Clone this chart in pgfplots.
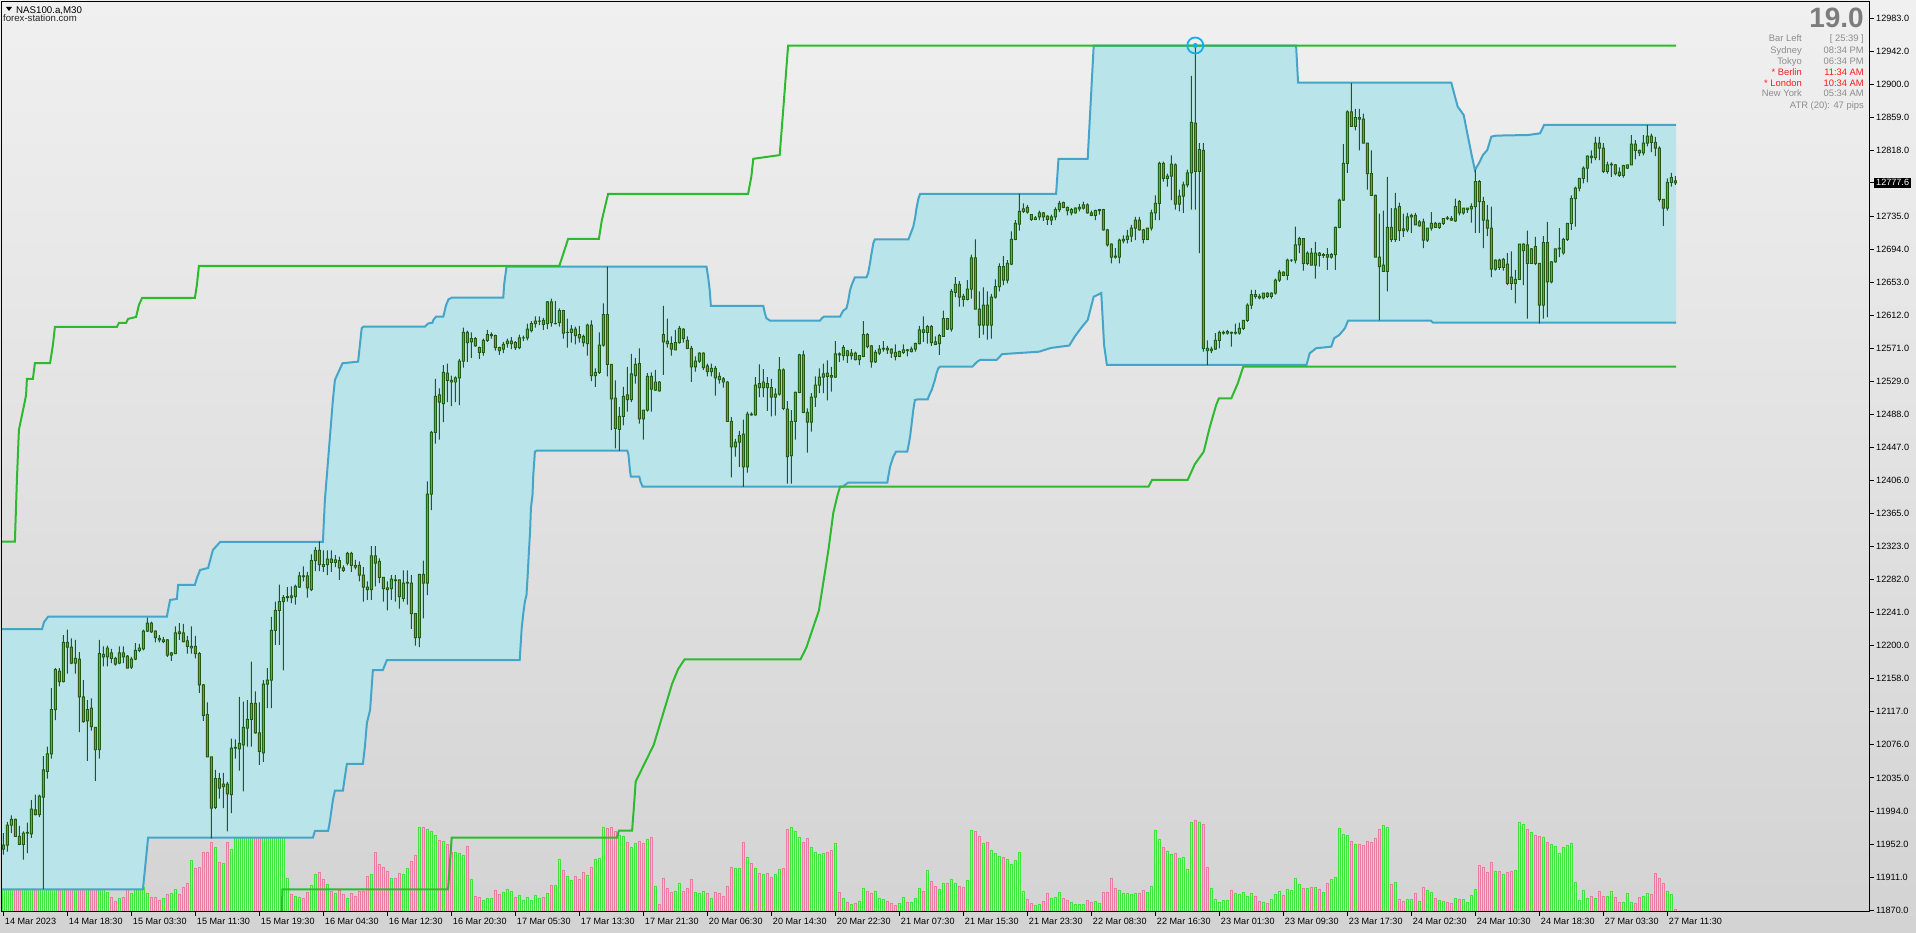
\documentclass[border=0pt]{standalone}
\usepackage{fontspec}
\setmainfont{Liberation Sans}
\usepackage{pgfplots}
\usepackage{pgfplotstable}
\pgfplotsset{compat=1.18}
\definecolor{bgtop}{HTML}{F0F0F0}
\definecolor{bgbot}{HTML}{D3D3D3}
\definecolor{chan}{HTML}{B9E4EA}
\definecolor{chanline}{HTML}{45A5C8}
\definecolor{gline}{HTML}{2EBA2E}
\definecolor{wick}{HTML}{1F5A12}
\definecolor{upfill}{HTML}{3DC23D}
\definecolor{dnfill}{HTML}{E0604A}
\definecolor{vgreen}{HTML}{3CE43C}
\definecolor{vgreenf}{HTML}{B3ECB3}
\definecolor{vpink}{HTML}{EA7CA2}
\definecolor{vpinkf}{HTML}{F2C2D2}
\definecolor{infogray}{HTML}{8C8C8C}
\definecolor{biggray}{HTML}{7C7C7C}
\definecolor{infored}{HTML}{FF1A1A}
\definecolor{hilite}{HTML}{12B0E8}

\pgfplotsset{
  chartaxis/.style={scale only axis, width=1868pt, height=910pt, xmin=-0.325, xmax=466.675,
    at={(2pt,21pt)}, anchor=south west, clip=true},
  priceaxis/.style={chartaxis, ymin=11867.5, ymax=13003.3},
}

% OHLC (price) and volume for each 30-minute bar, bar 0 = 14 Mar 2023
\pgfplotstableread{
o h l c v
11946 11966 11939 11951 40
11951 11980 11943 11976 38
11976 11988 11966 11983 35
11983 11984 11962 11962 42
11962 11975 11951 11952 36
11952 11968 11933 11966 30
11966 11979 11941 11967 33
11965 12007 11960 11996 45
11995 12014 11988 11989 40
11989 12014 11986 12012 38
12011 12062 11896 12045 50
12043 12074 12034 12065 42
12065 12147 12059 12120 48
12120 12172 12107 12170 45
12168 12172 12149 12155 40
12155 12213 12154 12204 44
12204 12220 12165 12198 42
12198 12209 12177 12178 36
12178 12207 12165 12184 32
12183 12192 12092 12136 40
12136 12157 12104 12105 38
12106 12132 12056 12120 35
12122 12134 12094 12099 30
12098 12098 12031 12070 35
12070 12207 12059 12190 40
12186 12199 12174 12189 28
12186 12200 12174 12197 20
12191 12196 12178 12184 15
12184 12186 12175 12177 11
12178 12199 12177 12191 14
12191 12199 12178 12186 15
12187 12188 12172 12172 24
12173 12186 12171 12183 19
12183 12203 12182 12194 25
12194 12202 12192 12197 25
12196 12220 12194 12218 25
12218 12235 12217 12228 19
12228 12230 12216 12217 15
12218 12219 12204 12210 15
12209 12213 12204 12207 12
12205 12211 12203 12207 14
12207 12208 12186 12188 18
12188 12192 12181 12191 19
12190 12224 12190 12216 23
12217 12228 12207 12215 18
12216 12227 12204 12205 25
12206 12212 12190 12199 29
12197 12224 12190 12199 52
12199 12212 12184 12190 44
12190 12192 12141 12151 45
12151 12152 12106 12113 60
12114 12129 12061 12061 60
12061 12061 11959 11997 70
11998 12045 11996 12034 65
12034 12041 12009 12022 50
12024 12041 11997 12027 49
12027 12030 11968 12015 70
12014 12084 11991 12072 63
12072 12083 12059 12073 80
12071 12136 12044 12078 85
12076 12130 12018 12098 88
12097 12132 12074 12108 90
12108 12180 12074 12128 86
12128 12143 12090 12091 84
12091 12129 12051 12068 80
12066 12157 12055 12152 82
12152 12172 12122 12157 88
12157 12236 12122 12219 90
12219 12255 12201 12244 85
12244 12276 12201 12255 80
12255 12263 12169 12260 78
12260 12273 12255 12261 34
12262 12274 12253 12260 18
12261 12276 12251 12274 16
12273 12292 12272 12287 15
12287 12299 12280 12286 14
12287 12292 12260 12272 20
12270 12314 12268 12306 27
12306 12323 12293 12319 38
12319 12330 12293 12301 40
12301 12319 12292 12299 33
12301 12319 12288 12308 28
12308 12319 12292 12304 21
12304 12313 12298 12307 19
12306 12311 12282 12297 22
12297 12300 12292 12294 18
12303 12317 12300 12315 14
12315 12317 12292 12300 19
12300 12307 12295 12298 16
12300 12305 12280 12288 21
12288 12298 12255 12273 21
12273 12280 12257 12270 36
12270 12324 12257 12312 38
12312 12324 12274 12303 60
12305 12309 12278 12285 48
12285 12285 12255 12271 45
12272 12280 12244 12270 41
12271 12288 12257 12283 34
12282 12288 12255 12281 34
12282 12282 12246 12261 39
12259 12294 12255 12278 38
12278 12294 12251 12279 44
12278 12288 12221 12240 51
12240 12240 12200 12210 57
12210 12289 12198 12289 85
12289 12306 12234 12278 85
12278 12405 12263 12389 83
12389 12468 12369 12466 81
12466 12533 12452 12511 77
12513 12521 12457 12504 72
12502 12550 12479 12541 71
12540 12552 12504 12531 68
12531 12537 12499 12529 60
12529 12536 12504 12534 60
12534 12558 12500 12555 59
12555 12597 12547 12591 57
12591 12593 12554 12578 66
12579 12591 12559 12583 33
12583 12585 12573 12574 16
12572 12573 12558 12566 15
12566 12583 12562 12581 12
12581 12594 12579 12588 14
12587 12591 12583 12588 14
12587 12588 12568 12572 22
12572 12573 12563 12568 18
12570 12579 12565 12576 20
12577 12583 12572 12580 23
12577 12585 12570 12580 21
12578 12580 12569 12572 15
12572 12588 12570 12584 17
12584 12587 12580 12584 12
12584 12602 12581 12595 15
12593 12605 12591 12602 12
12602 12611 12597 12605 17
12605 12611 12600 12605 14
12606 12609 12594 12601 15
12602 12630 12595 12629 19
12629 12633 12598 12603 27
12602 12630 12601 12602 27
12603 12621 12598 12618 53
12618 12619 12583 12590 42
12591 12608 12572 12591 36
12591 12600 12578 12595 32
12595 12598 12576 12587 36
12588 12599 12578 12584 33
12586 12588 12573 12578 40
12577 12602 12562 12600 37
12600 12606 12530 12537 45
12537 12546 12523 12541 53
12541 12591 12539 12575 54
12575 12627 12573 12613 85
12613 12673 12536 12551 84
12551 12551 12469 12508 85
12509 12531 12446 12471 81
12470 12498 12443 12486 77
12486 12523 12475 12511 76
12513 12548 12492 12507 70
12507 12564 12504 12539 65
12537 12559 12527 12551 69
12552 12571 12477 12483 71
12494 12494 12457 12483 69
12494 12540 12492 12536 73
12536 12541 12492 12520 75
12519 12544 12518 12529 26
12529 12530 12517 12518 8
12588 12624 12538 12579 34
12580 12608 12572 12577 24
12577 12586 12562 12570 20
12569 12594 12569 12578 21
12578 12599 12577 12596 29
12595 12596 12578 12583 21
12581 12586 12570 12571 24
12571 12574 12529 12548 33
12548 12561 12542 12555 20
12555 12566 12553 12565 19
12547 12566 12544 12565 21
12549 12552 12536 12542 19
12542 12552 12536 12546 14
12546 12549 12512 12534 20
12536 12541 12527 12532 19
12533 12535 12522 12529 16
12529 12530 12480 12480 26
12480 12485 12410 12448 45
12448 12458 12436 12454 44
12454 12468 12423 12462 44
12464 12482 12398 12423 70
12423 12492 12416 12489 55
12489 12491 12487 12488 49
12488 12535 12487 12525 44
12527 12551 12510 12522 39
12522 12545 12510 12529 38
12527 12535 12493 12522 39
12522 12533 12486 12510 35
12510 12521 12487 12514 38
12514 12560 12512 12544 43
12544 12546 12494 12496 44
12495 12505 12402 12436 83
12437 12494 12402 12480 85
12480 12517 12457 12516 81
12516 12564 12515 12563 75
12563 12568 12490 12491 70
12491 12496 12441 12479 74
12479 12515 12467 12510 65
12510 12536 12498 12525 60
12525 12546 12515 12535 58
12535 12552 12515 12539 59
12540 12556 12506 12536 60
12537 12548 12517 12535 62
12535 12580 12534 12564 69
12564 12566 12554 12563 20
12562 12575 12556 12572 14
12568 12569 12553 12562 10
12562 12570 12557 12565 8
12565 12567 12556 12557 9
12557 12562 12550 12562 11
12561 12605 12560 12588 24
12588 12590 12571 12573 21
12574 12575 12547 12554 19
12554 12569 12553 12566 21
12565 12575 12563 12570 14
12570 12580 12567 12571 13
12571 12574 12564 12569 11
12570 12571 12559 12565 9
12566 12576 12556 12561 7
12561 12568 12560 12567 9
12566 12576 12564 12569 15
12569 12570 12561 12568 10
12567 12573 12566 12570 10
12570 12578 12567 12577 14
12577 12599 12576 12594 24
12594 12611 12579 12591 21
12591 12600 12577 12598 42
12598 12600 12574 12578 31
12579 12586 12575 12576 26
12577 12589 12563 12587 23
12586 12618 12586 12608 29
12608 12609 12594 12595 29
12595 12645 12592 12642 33
12641 12660 12635 12651 29
12651 12655 12623 12635 26
12636 12639 12623 12632 25
12632 12656 12631 12645 32
12645 12688 12633 12684 82
12684 12707 12620 12620 81
12620 12642 12584 12600 76
12600 12647 12588 12625 69
12625 12642 12582 12600 70
12600 12639 12583 12635 62
12635 12657 12633 12648 59
12648 12677 12642 12673 56
12673 12686 12650 12656 55
12656 12681 12652 12677 53
12676 12717 12675 12707 48
12707 12731 12706 12727 52
12726 12764 12718 12742 60
12742 12752 12740 12745 21
12747 12750 12739 12741 13
12738 12738 12730 12732 9
12732 12736 12731 12734 7
12735 12743 12731 12740 8
12740 12741 12730 12735 11
12736 12737 12725 12732 19
12731 12738 12725 12735 14
12735 12747 12731 12744 15
12744 12755 12741 12752 20
12753 12754 12746 12747 14
12747 12748 12737 12743 12
12740 12746 12737 12744 10
12740 12747 12739 12746 8
12745 12751 12742 12747 8
12746 12754 12744 12750 8
12750 12752 12739 12740 12
12740 12743 12736 12737 10
12737 12744 12731 12743 11
12743 12745 12738 12744 9
12744 12745 12718 12719 20
12719 12720 12698 12700 20
12701 12702 12677 12685 34
12686 12696 12683 12685 24
12685 12708 12677 12706 22
12705 12712 12702 12707 19
12707 12719 12702 12711 19
12711 12725 12704 12721 18
12721 12735 12706 12731 19
12731 12735 12718 12719 19
12719 12720 12702 12707 22
12707 12721 12706 12721 20
12721 12744 12718 12740 26
12740 12762 12731 12752 82
12752 12804 12731 12802 73
12802 12804 12779 12783 65
12783 12789 12773 12786 61
12786 12812 12756 12801 58
12800 12802 12744 12751 59
12751 12769 12742 12761 54
12761 12779 12740 12775 55
12775 12794 12772 12790 43
12790 12911 12744 12853 90
12852 12952 12744 12792 92
12792 12827 12690 12819 90
12818 12827 12567 12571 88
12571 12581 12550 12568 45
12568 12573 12565 12570 24
12570 12590 12569 12581 13
12581 12593 12571 12591 10
12590 12593 12588 12591 12
12590 12594 12588 12592 12
12591 12592 12573 12590 22
12590 12602 12588 12591 19
12590 12603 12588 12596 18
12596 12606 12594 12606 20
12606 12627 12604 12625 16
12625 12644 12620 12638 19
12638 12644 12633 12636 16
12636 12639 12632 12634 11
12634 12640 12632 12640 10
12640 12641 12634 12636 9
12636 12641 12633 12640 13
12640 12658 12638 12656 18
12656 12669 12654 12666 21
12666 12667 12661 12662 17
12662 12683 12656 12681 23
12681 12682 12679 12681 22
12681 12723 12677 12700 34
12700 12710 12690 12708 28
12708 12708 12668 12677 24
12677 12692 12675 12690 24
12690 12696 12675 12675 25
12675 12704 12658 12690 25
12690 12691 12673 12687 23
12687 12690 12684 12688 20
12688 12696 12669 12685 29
12685 12690 12683 12688 33
12688 12723 12669 12722 35
12722 12758 12721 12756 84
12756 12826 12755 12802 78
12802 12868 12790 12866 77
12866 12902 12848 12848 71
12848 12870 12843 12859 68
12859 12870 12818 12857 68
12857 12864 12827 12827 67
12827 12827 12769 12789 71
12789 12818 12762 12762 70
12762 12763 12685 12685 74
12685 12739 12606 12673 83
12667 12743 12667 12675 87
12667 12785 12642 12722 85
12722 12746 12704 12707 28
12707 12765 12704 12745 30
12748 12753 12705 12718 13
12720 12739 12710 12718 11
12719 12740 12716 12735 13
12735 12739 12715 12737 13
12737 12740 12725 12725 19
12724 12731 12723 12729 11
12729 12733 12696 12706 25
12706 12721 12704 12721 22
12721 12741 12718 12727 20
12727 12729 12722 12722 14
12722 12728 12720 12727 12
12727 12733 12725 12733 11
12734 12736 12731 12733 10
12733 12736 12730 12731 9
12730 12758 12729 12748 14
12754 12756 12737 12740 13
12740 12746 12738 12746 13
12744 12746 12740 12746 10
12745 12752 12728 12748 17
12748 12794 12715 12779 23
12779 12781 12715 12754 47
12754 12760 12696 12731 45
12731 12750 12711 12721 40
12721 12748 12660 12670 50
12670 12682 12668 12681 41
12681 12683 12669 12672 41
12672 12684 12668 12682 38
12676 12690 12650 12652 40
12660 12692 12644 12652 41
12652 12669 12627 12657 42
12657 12701 12657 12701 90
12693 12702 12650 12701 88
12700 12718 12608 12677 83
12677 12696 12677 12695 80
12698 12710 12675 12677 77
12677 12677 12602 12625 76
12625 12711 12608 12703 75
12703 12729 12610 12654 70
12654 12680 12652 12679 68
12679 12695 12678 12695 66
12695 12721 12685 12696 59
12690 12709 12688 12707 65
12707 12727 12705 12727 67
12727 12762 12719 12758 69
12758 12773 12723 12771 30
12771 12783 12767 12783 12
12783 12798 12777 12796 22
12796 12812 12778 12811 14
12811 12818 12802 12809 16
12809 12835 12806 12827 14
12827 12835 12806 12821 21
12821 12827 12790 12792 16
12792 12804 12789 12800 16
12800 12803 12785 12801 21
12800 12801 12787 12789 15
12791 12797 12785 12787 10
12787 12800 12784 12799 10
12796 12800 12795 12800 19
12800 12837 12800 12826 10
12826 12831 12807 12818 9
12818 12819 12811 12815 15
12815 12837 12812 12827 16
12827 12850 12823 12836 19
12836 12839 12816 12828 18
12828 12835 12811 12821 39
12821 12823 12754 12757 34
12757 12757 12724 12746 29
12746 12783 12743 12778 21
12778 12790 12773 12784 18
12780 12786 12775 12777.6 3
}\candles

% channel upper line (bar, price)
\pgfplotstableread{
x y
-0.4 12220.7
9.7 12220.7
10.2 12229.5
11.2 12236.1
40.9 12236.1
41.2 12244.5
41.7 12257
43.4 12258.2
43.7 12275.7
47.9 12275.7
48.4 12284.4
49.2 12294.4
51.2 12296.9
52.4 12319.3
54.2 12329.3
79.9 12329.3
80.4 12381.8
82.4 12506.6
82.9 12531.5
84.8 12552.4
88.7 12554.4
89.6 12596.1
90.05 12598.1
105.4 12598.1
105.8 12600.2
106.3 12602.2
107.3 12603
107.5 12606.4
108.2 12610.6
110 12610.6
110.2 12614.7
110.7 12625.1
111.3 12632.2
112.1 12634.3
125 12634.3
125.2 12650
125.8 12673
175.8 12673
176.2 12660.5
176.6 12643.9
176.9 12623.9
190 12623.9
190.4 12614.7
190.8 12608.5
191.7 12605.6
204.2 12605.6
204.6 12608.5
205.2 12610.6
209.2 12610.6
209.6 12614.7
210 12618.1
210.8 12621
211.2 12629.3
211.7 12643.9
212.1 12650.1
212.9 12659.7
215.8 12659.7
216.2 12664.7
216.6 12675.1
217 12687.5
217.5 12702.1
217.9 12707.1
226.3 12707.1
226.7 12712.5
227.5 12722.9
228 12735.4
228.3 12745.8
228.8 12758.3
229.2 12763.7
263.2 12763.7
263.8 12807.6
271.1 12807.6
272.6 12948.8
323.2 12948.8
323.7 12902.6
362 12902.6
362.7 12889.3
363.6 12872.7
365.1 12862.3
366 12839.4
367 12814.4
367.9 12793.6
368.9 12801.9
369.9 12812.3
371 12818.6
372 12835.2
373.2 12836.5
381.3 12837.3
384.2 12839.4
385.2 12849.8
418.2 12849.8
}\bu
% channel lower line, listed from right to left
\pgfplotstableread{
x y
418.2 12603.1
357.4 12603.1
356.9 12605.6
336.2 12605.6
335.4 12596
334 12587.7
332.7 12583.5
332 12573.1
328.2 12571.1
326.6 12564.8
325.8 12550.3
275.9 12550.3
275.2 12575
274.5 12640
272.6 12635.4
271.1 12606.4
269.6 12597.3
268 12586.7
266.5 12574.5
261.9 12571.5
258.9 12566.8
249.7 12563.8
248.75 12558.6
248.3 12556.5
244.2 12556.5
243.5 12554.4
242.9 12551.5
242.3 12548.2
234.2 12548.2
233.75 12546.1
233.3 12539.8
232.9 12531.5
232.5 12525.3
232.1 12519
231.5 12512.8
231.1 12507.4
228.75 12507.4
227.9 12506.6
227.5 12494.1
227.1 12477.4
226.7 12460.8
226.25 12448.3
226 12442.1
223.2 12442.1
222.5 12435.8
222.1 12429.6
221.7 12423.4
221.25 12410.9
221 12403.4
211.25 12403.4
210.4 12400.5
210 12398.4
159.8 12398.4
159.3 12404.6
159 12410.9
156.9 12410.9
156.7 12417.1
156.3 12437.9
156 12443.3
133.3 12443.3
132.9 12442
132.5 12413
132.3 12388
131.9 12371.4
131.7 12342.2
131.4 12317.3
131.1 12288.1
130.8 12263.2
130.4 12254.9
130 12240.3
129.6 12221.6
129.1 12182
95.9 12182
94.9 12169.5
92.4 12169.5
91.7 12119.6
90.9 12103.4
90.4 12073.8
89.9 12052.3
85.9 12052.3
85.4 12036.4
84.9 12018.9
82.9 12018.9
82.4 12007.3
81.7 11982.3
81.2 11968.6
77.9 11968.6
77.4 11960.3
36.2 11960.3
35.4 11920
34.9 11895.8
-0.4 11895.8
}\bl
% channel area: upper line left to right, then lower line right to left
\pgfplotstableread{
x y
-0.4 12220.7
9.7 12220.7
10.2 12229.5
11.2 12236.1
40.9 12236.1
41.2 12244.5
41.7 12257
43.4 12258.2
43.7 12275.7
47.9 12275.7
48.4 12284.4
49.2 12294.4
51.2 12296.9
52.4 12319.3
54.2 12329.3
79.9 12329.3
80.4 12381.8
82.4 12506.6
82.9 12531.5
84.8 12552.4
88.7 12554.4
89.6 12596.1
90.05 12598.1
105.4 12598.1
105.8 12600.2
106.3 12602.2
107.3 12603
107.5 12606.4
108.2 12610.6
110 12610.6
110.2 12614.7
110.7 12625.1
111.3 12632.2
112.1 12634.3
125 12634.3
125.2 12650
125.8 12673
175.8 12673
176.2 12660.5
176.6 12643.9
176.9 12623.9
190 12623.9
190.4 12614.7
190.8 12608.5
191.7 12605.6
204.2 12605.6
204.6 12608.5
205.2 12610.6
209.2 12610.6
209.6 12614.7
210 12618.1
210.8 12621
211.2 12629.3
211.7 12643.9
212.1 12650.1
212.9 12659.7
215.8 12659.7
216.2 12664.7
216.6 12675.1
217 12687.5
217.5 12702.1
217.9 12707.1
226.3 12707.1
226.7 12712.5
227.5 12722.9
228 12735.4
228.3 12745.8
228.8 12758.3
229.2 12763.7
263.2 12763.7
263.8 12807.6
271.1 12807.6
272.6 12948.8
323.2 12948.8
323.7 12902.6
362 12902.6
362.7 12889.3
363.6 12872.7
365.1 12862.3
366 12839.4
367 12814.4
367.9 12793.6
368.9 12801.9
369.9 12812.3
371 12818.6
372 12835.2
373.2 12836.5
381.3 12837.3
384.2 12839.4
385.2 12849.8
418.2 12849.8
418.2 12603.1
357.4 12603.1
356.9 12605.6
336.2 12605.6
335.4 12596
334 12587.7
332.7 12583.5
332 12573.1
328.2 12571.1
326.6 12564.8
325.8 12550.3
275.9 12550.3
275.2 12575
274.5 12640
272.6 12635.4
271.1 12606.4
269.6 12597.3
268 12586.7
266.5 12574.5
261.9 12571.5
258.9 12566.8
249.7 12563.8
248.75 12558.6
248.3 12556.5
244.2 12556.5
243.5 12554.4
242.9 12551.5
242.3 12548.2
234.2 12548.2
233.75 12546.1
233.3 12539.8
232.9 12531.5
232.5 12525.3
232.1 12519
231.5 12512.8
231.1 12507.4
228.75 12507.4
227.9 12506.6
227.5 12494.1
227.1 12477.4
226.7 12460.8
226.25 12448.3
226 12442.1
223.2 12442.1
222.5 12435.8
222.1 12429.6
221.7 12423.4
221.25 12410.9
221 12403.4
211.25 12403.4
210.4 12400.5
210 12398.4
159.8 12398.4
159.3 12404.6
159 12410.9
156.9 12410.9
156.7 12417.1
156.3 12437.9
156 12443.3
133.3 12443.3
132.9 12442
132.5 12413
132.3 12388
131.9 12371.4
131.7 12342.2
131.4 12317.3
131.1 12288.1
130.8 12263.2
130.4 12254.9
130 12240.3
129.6 12221.6
129.1 12182
95.9 12182
94.9 12169.5
92.4 12169.5
91.7 12119.6
90.9 12103.4
90.4 12073.8
89.9 12052.3
85.9 12052.3
85.4 12036.4
84.9 12018.9
82.9 12018.9
82.4 12007.3
81.7 11982.3
81.2 11968.6
77.9 11968.6
77.4 11960.3
36.2 11960.3
35.4 11920
34.9 11895.8
-0.4 11895.8
}\chanarea
% upper and lower envelope
\pgfplotstableread{
x y
-0.4 12329.8
2.9 12329.8
3.4 12406.7
3.9 12469.1
5.2 12500.3
5.7 12512.8
5.9 12532.8
7.4 12532.8
7.9 12552.7
11.7 12552.7
12.4 12575.2
12.9 12597.7
28.4 12597.7
28.9 12602.7
30.7 12602.7
31.2 12607.7
33.2 12610.2
33.9 12625.1
34.7 12633.9
47.9 12633.9
48.4 12650.1
48.9 12673.8
139 12673.8
139.9 12687.5
141.2 12707.5
148.9 12707.5
149.6 12730
150.3 12745
151.2 12763.7
186.2 12763.7
187 12785
187.5 12807.6
194.1 12812.2
195 12870
196.2 12948.8
418.2 12948.8
}\gu
\pgfplotstableread{
x y
69.7 11860
69.75 11895.8
111.2 11895.8
112.1 11960.3
153.4 11960.3
153.9 11969
157.2 11969
157.6 11995
158.1 12030.3
162.6 12076
167.2 12152.3
168.7 12170.5
170.3 12182.7
199.3 12182.7
200.8 12198
203.9 12243.7
206.3 12319.9
207.5 12365.6
208.6 12388.5
209.2 12398.4
286.3 12398.4
287.2 12406.8
296.1 12406.8
297.9 12426.6
300.1 12441.9
301.6 12472.3
303.2 12500
303.9 12508.6
307 12508.6
308.6 12527
310 12548.2
418.2 12548.2
}\gl

\begin{document}
\begin{tikzpicture}[x=1pt,y=1pt]
\shade[top color=bgtop, bottom color=bgbot] (0,0) rectangle (1916,933);

% volume histogram (green = up bar, pink = down bar)
\begin{axis}[chartaxis, ymin=0, ymax=910, hide axis]
\addplot[ybar, bar width=2.2pt, bar shift=0pt, draw=vgreen, fill=vgreenf, line width=0.6pt]
  table[x expr=\coordindex, y expr={(\thisrow{c}>=\thisrow{o})*\thisrow{v}}] {\candles};
\addplot[ybar, bar width=2.2pt, bar shift=0pt, draw=vpink, fill=vpinkf, line width=0.6pt]
  table[x expr=\coordindex, y expr={(\thisrow{c}<\thisrow{o})*\thisrow{v}}] {\candles};
\end{axis}

% price channel (filled) and envelope
\begin{axis}[priceaxis, hide axis]
\addplot[fill=chan, draw=none] table {\chanarea};
\addplot[chanline, line width=2pt] table {\bu};
\addplot[chanline, line width=2pt] table {\bl};
\addplot[gline, line width=2pt] table {\gu};
\addplot[gline, line width=2pt] table {\gl};
\end{axis}

% candle wicks: invisible base up to the low, then low..high
\begin{axis}[priceaxis, hide axis, ybar stacked, bar width=1pt]
\addplot[draw=none, fill=none] table[x expr=\coordindex, y=l] {\candles};
\addplot[draw=none, fill=wick] table[x expr=\coordindex, y expr={\thisrow{h}-\thisrow{l}}] {\candles};
\end{axis}
% candle body outlines
\begin{axis}[priceaxis, hide axis, ybar stacked, bar width=3pt]
\addplot[draw=none, fill=none] table[x expr=\coordindex, y expr={min(\thisrow{o},\thisrow{c})-0.62}] {\candles};
\addplot[draw=none, fill=wick] table[x expr=\coordindex, y expr={abs(\thisrow{c}-\thisrow{o})+1.24}] {\candles};
\end{axis}
% candle body fills
\begin{axis}[priceaxis, hide axis, ybar stacked, bar width=1pt]
\addplot[draw=none, fill=none] table[x expr=\coordindex, y expr={min(\thisrow{o},\thisrow{c})+0.62}] {\candles};
\addplot[draw=none, fill=upfill] table[x expr=\coordindex, y expr={(\thisrow{c}>=\thisrow{o})*max(abs(\thisrow{c}-\thisrow{o})-1.24,0)}] {\candles};
\addplot[draw=none, fill=dnfill] table[x expr=\coordindex, y expr={(\thisrow{c}<\thisrow{o})*max(abs(\thisrow{c}-\thisrow{o})-1.24,0)}] {\candles};
\end{axis}

% frame, ticks, highest-high marker
\begin{axis}[priceaxis,
  axis line style={line width=1pt, black},
  tick align=outside, major tick length=4pt,
  tick style={black, line width=0.8pt},
  xtick pos=left, ytick pos=right, yticklabel pos=right,
  xtick={0,16,...,416},
  xticklabels={14 Mar 2023,14 Mar 18:30,15 Mar 03:30,15 Mar 11:30,15 Mar 19:30,16 Mar 04:30,16 Mar 12:30,16 Mar 20:30,17 Mar 05:30,17 Mar 13:30,17 Mar 21:30,20 Mar 06:30,20 Mar 14:30,20 Mar 22:30,21 Mar 07:30,21 Mar 15:30,21 Mar 23:30,22 Mar 08:30,22 Mar 16:30,23 Mar 01:30,23 Mar 09:30,23 Mar 17:30,24 Mar 02:30,24 Mar 10:30,24 Mar 18:30,27 Mar 03:30,27 Mar 11:30},
  ytick={11870,11911.22,11952.44,11993.67,12034.89,12076.11,12117.33,12158.56,12199.78,12241,12282.22,12323.44,12364.67,12405.89,12447.11,12488.33,12529.56,12570.78,12612,12653.22,12694.44,12735.67,12818.11,12859.33,12900.56,12941.78,12983},
  yticklabels={11870.0,11911.0,11952.0,11994.0,12035.0,12076.0,12117.0,12158.0,12200.0,12241.0,12282.0,12323.0,12365.0,12406.0,12447.0,12488.0,12529.0,12571.0,12612.0,12653.0,12694.0,12735.0,12818.0,12859.0,12900.0,12942.0,12983.0},
  ticklabel style={font=\fontsize{9.1}{10}\selectfont, text=black},
  xticklabel style={anchor=north west, inner sep=0pt, xshift=1.5pt, yshift=-2pt},
  yticklabel style={anchor=west, inner sep=0pt, xshift=2pt},
  extra y ticks={12777.6}, extra y tick labels={12777.6},
  extra y tick style={yticklabel style={fill=black, text=white, inner xsep=2pt, inner ysep=1.5pt, xshift=-2pt}},
]
\addplot[only marks, mark=o, mark size=8pt, mark options={draw=hilite, line width=1.8pt}] coordinates {(298,12949)};
\addplot[only marks, mark=*, mark size=2.2pt, mark options={fill=hilite, draw=hilite}] coordinates {(298,12949)};
\end{axis}

% header texts
\fill[black] (6,926) -- (12,926) -- (9,922) -- cycle;
\node[anchor=base west, inner sep=0pt, font=\fontsize{9.7}{11}\selectfont] at (16,919) {NAS100.a,M30};
\node[anchor=base west, inner sep=0pt, font=\fontsize{9.6}{11}\selectfont, text=black!85] at (3,911) {forex-station.com};

\node[anchor=base east, inner sep=0pt, font=\fontsize{28}{28}\selectfont\bfseries, text=biggray] at (1864,905) {19.0};
\begin{scope}[every node/.style={inner sep=0pt, font=\fontsize{9.4}{11}\selectfont, text=infogray}]
\node[anchor=base east] at (1802,891) {Bar Left};
\node[anchor=base east] at (1864,891) {[ 25:39 ]};
\node[anchor=base east] at (1802,879.6) {Sydney};
\node[anchor=base east] at (1864,879.6) {08:34 PM};
\node[anchor=base east] at (1802,868.6) {Tokyo};
\node[anchor=base east] at (1864,868.6) {06:34 PM};
\node[anchor=base east, text=infored] at (1802,857.9) {* Berlin};
\node[anchor=base east, text=infored] at (1864,857.9) {11:34 AM};
\node[anchor=base east, text=infored] at (1802,846.9) {* London};
\node[anchor=base east, text=infored] at (1864,846.9) {10:34 AM};
\node[anchor=base east] at (1802,836.3) {New York};
\node[anchor=base east] at (1864,836.3) {05:34 AM};
\node[anchor=base east] at (1864,824.3) {ATR (20): 47 pips};
\end{scope}
\pgfresetboundingbox
\useasboundingbox (0,0) rectangle (1916,933);
\end{tikzpicture}
\end{document}
